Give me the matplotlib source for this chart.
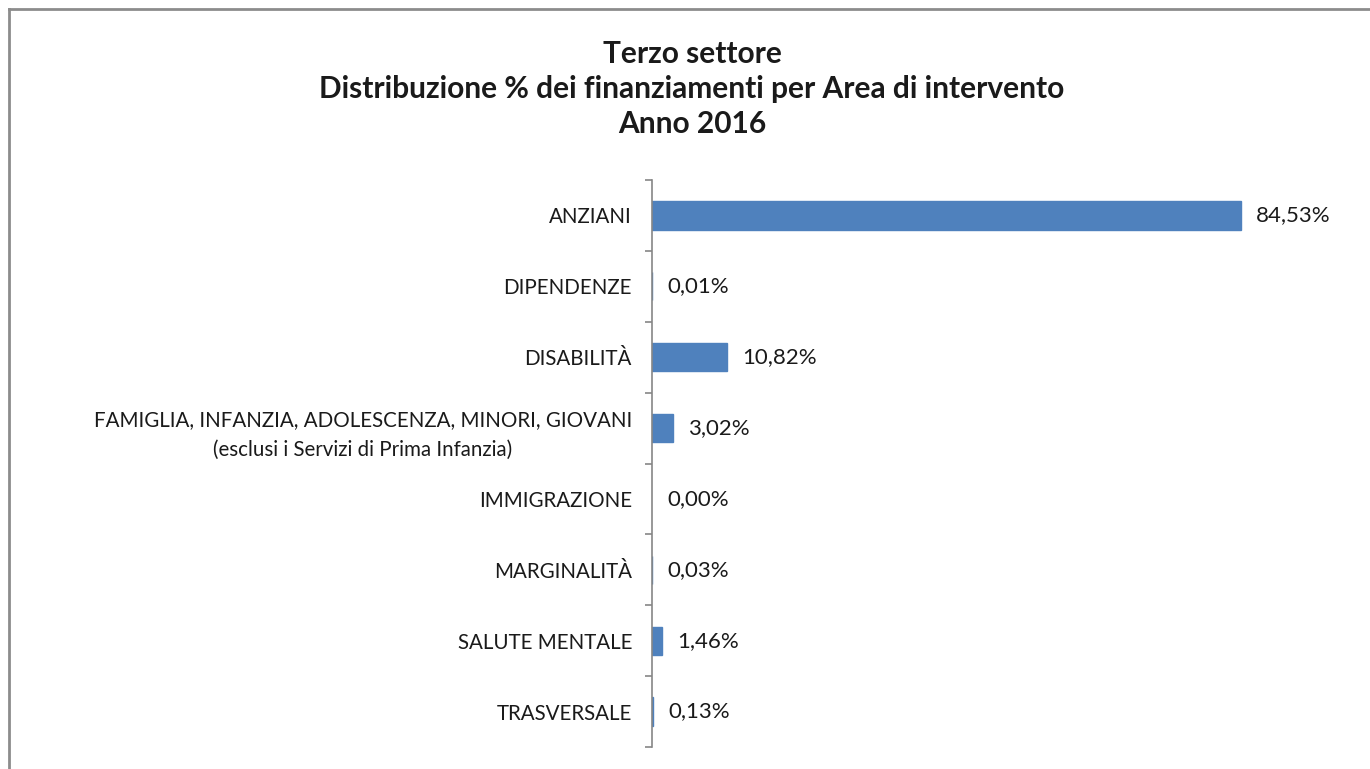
import matplotlib.pyplot as plt
from matplotlib.lines import Line2D

plt.rcParams['font.family'] = ['Lato', 'DejaVu Sans']

aree = ['ANZIANI', 'DIPENDENZE', 'DISABILITÀ',
        'FAMIGLIA, INFANZIA, ADOLESCENZA, MINORI, GIOVANI\n(esclusi i Servizi di Prima Infanzia)',
        'IMMIGRAZIONE', 'MARGINALITÀ', 'SALUTE MENTALE', 'TRASVERSALE']
percentuali = [84.53, 0.01, 10.82, 3.02, 0.00, 0.03, 1.46, 0.13]
etichette = ['84,53%', '0,01%', '10,82%', '3,02%', '0,00%', '0,03%', '1,46%', '0,13%']

W, H = 1370, 769
fig = plt.figure(figsize=(W / 100, H / 100), dpi=100)

# cornice grigia (solo lati visibili: sopra e sinistra)
fig.add_artist(Line2D([9 / W, 1.0], [1 - 9 / H, 1 - 9 / H], color='#8c8c8c', lw=2,
                      transform=fig.transFigure))
fig.add_artist(Line2D([9 / W, 9 / W], [1 - 9 / H, 0.0], color='#8c8c8c', lw=2,
                      transform=fig.transFigure))

ax = fig.add_axes([652 / W, 1 - 747 / H, 696.8 / W, (747 - 180) / H])

y = list(range(len(aree)))
blu = '#4F81BD'
bordi = [blu if v > 0 else 'none' for v in percentuali]
ax.barh(y, percentuali, height=0.4, color=blu, edgecolor=bordi, linewidth=1)
for yi, v, lab in zip(y, percentuali, etichette):
    ax.annotate(lab, (v, yi), xytext=(11, 0), textcoords='offset points',
                va='center', ha='left', fontsize=16, color='#1a1a1a')

ax.set_xlim(0, 100)
ax.set_ylim(len(aree) - 0.5, -0.5)
ax.set_yticks(y)
ax.set_yticklabels(aree, fontsize=14.8, color='#1a1a1a', ha='right',
                   multialignment='center', linespacing=1.6)
ax.tick_params(axis='y', which='major', length=0, pad=14.4)
ax.set_yticks([i - 0.5 for i in range(len(aree) + 1)], minor=True)
ax.tick_params(axis='y', which='minor', length=5, color='#868686', width=1.2)
ax.set_xticks([])
for s in ['top', 'right', 'bottom']:
    ax.spines[s].set_visible(False)
ax.spines['left'].set_color('#868686')
ax.spines['left'].set_linewidth(1.2)

fig.text(692 / W, 1 - 89 / H,
         'Terzo settore\nDistribuzione % dei finanziamenti per Area di intervento\nAnno 2016',
         ha='center', va='center', fontsize=21.5, fontweight='bold', linespacing=1.3,
         color='#1a1a1a')

fig.savefig('out.png', dpi=100)
